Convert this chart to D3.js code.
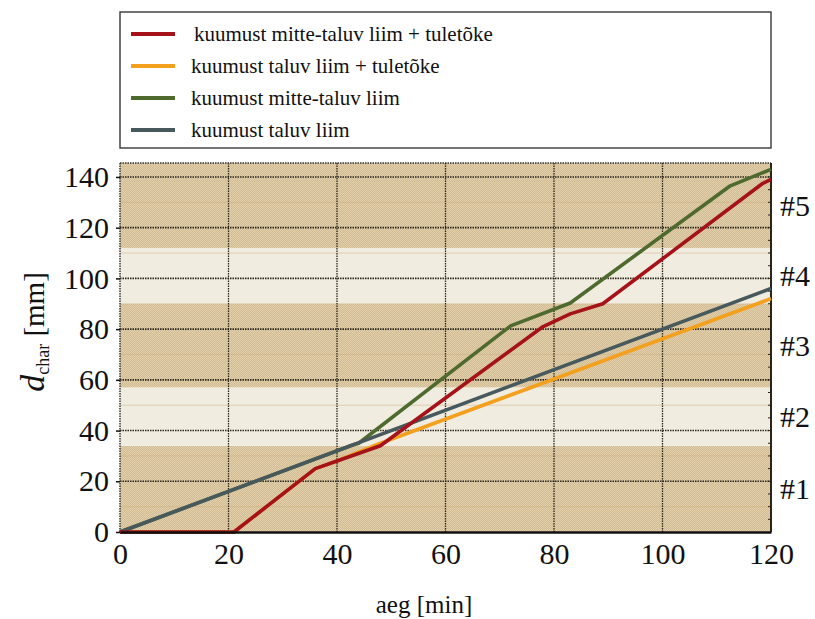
<!DOCTYPE html>
<html>
<head lang="en">
    <meta charset="UTF-8">
    <title></title>
    <style>
        body { margin: 0; background: #fff; }
        svg text { font-family: "Liberation Serif", "Liberation Sans", Arial, sans-serif !important; }
    </style>
</head>
<body>
    <svg id="chart" width="815" height="619"></svg>
</body>
<script src="https://cdn.jsdelivr.net/npm/d3@7/dist/d3.min.js"></script>
<script>

    // series: [time (min), char depth (mm)]
    let redData    = [[0,0],[21,0],[36,25],[40,28],[48,34],[78,81],[83,86],[89,90],[118.5,137.5],[120,139]];
    let orangeData = [[0,0],[21,0],[36,25],[40,28],[48,35],[120,92]];
    let greenData  = [[0,0],[43,34.4],[44,35],[72,81.3],[83,90.3],[112.5,136.5],[120,143]];
    let grayData   = [[0,0],[120,96]];

    let legendLabels = ["kuumust mitte-taluv liim + tuletõke", "kuumust taluv liim + tuletõke",
                        "kuumust mitte-taluv liim", "kuumust taluv liim"];
    let colors = ["#a5121a", "#f2a01e", "#4f6a2e", "#47595d"];

    let xTicks = [0, 20, 40, 60, 80, 100, 120];
    let yTicks = [0, 20, 40, 60, 80, 100, 120, 140];
    let bandEdges  = [0, 34, 57, 90, 112, 145.5];
    let bandLabels = ["#1", "#2", "#3", "#4", "#5"];

    let margin = {top: 163, right: 44, bottom: 87, left: 120};
    let width = 815 - margin.left - margin.right;
    let height = 619 - margin.top - margin.bottom;

    let svg = d3.select('svg');

    let defs = svg.append('defs');
    let pat = defs.append('pattern')
        .attr('id', 'hatch')
        .attr('width', 2).attr('height', 2)
        .attr('patternUnits', 'userSpaceOnUse');
    pat.append('rect').attr('width', 2).attr('height', 2).attr('fill', '#e1cfac');
    pat.append('rect').attr('width', 1).attr('height', 1).attr('fill', '#d2bc93');
    pat.append('rect').attr('x', 1).attr('y', 1).attr('width', 1).attr('height', 1).attr('fill', '#d2bc93');

    let canvas = svg.append('g')
        .attr("transform", "translate(" + margin.left + "," + margin.top + ")");

    let x = d3.scaleLinear().domain([0, 120]).range([0, width]);
    let y = d3.scaleLinear().domain([0, 145.5]).range([height, 0]);

    // shaded bands
    let bands = d3.range(bandLabels.length).map(i => ({lo: bandEdges[i], hi: bandEdges[i + 1], i: i}));
    canvas.selectAll('.band').data(bands).enter().append('rect')
        .attr('x', 0)
        .attr('width', width)
        .attr('y', d => y(d.hi))
        .attr('height', d => y(d.lo) - y(d.hi))
        .attr('fill', d => d.i % 2 === 0 ? 'url(#hatch)' : '#f1ece0');

    // faint minor lines
    canvas.selectAll('.minor').data(d3.range(10, 145, 20)).enter().append('line')
        .attr('x1', 0).attr('x2', width)
        .attr('y1', d => y(d)).attr('y2', d => y(d))
        .attr('stroke', '#c9a878').attr('stroke-opacity', 0.45).attr('stroke-width', 1);

    // major grid
    canvas.append('g').selectAll('line').data(yTicks.slice(1)).enter().append('line')
        .attr('x1', 0).attr('x2', width)
        .attr('y1', d => y(d)).attr('y2', d => y(d))
        .attr('stroke', '#2b2418').attr('stroke-width', 1.6).attr('stroke-dasharray', '1.5,1');
    canvas.append('g').selectAll('line').data(xTicks.slice(1, -1)).enter().append('line')
        .attr('y1', 0).attr('y2', height)
        .attr('x1', d => x(d)).attr('x2', d => x(d))
        .attr('stroke', '#2b2418').attr('stroke-width', 1.3).attr('stroke-dasharray', '1.5,1');

    // frame
    canvas.append('line').attr('x1', 0).attr('x2', width).attr('y1', 0).attr('y2', 0)
        .attr('stroke', '#333').attr('stroke-width', 1.5).attr('stroke-dasharray', '1.5,1');
    canvas.append('line').attr('x1', 0).attr('x2', 0).attr('y1', 0).attr('y2', height)
        .attr('stroke', '#333').attr('stroke-width', 1.5).attr('stroke-dasharray', '1.5,1');
    canvas.append('line').attr('x1', width).attr('x2', width).attr('y1', 0).attr('y2', height)
        .attr('stroke', '#2b2418').attr('stroke-width', 2);

    // right minor ticks
    canvas.selectAll('.rtick').data(d3.range(5, 145, 5)).enter().append('line')
        .attr('x1', width - 3).attr('x2', width)
        .attr('y1', d => y(d)).attr('y2', d => y(d))
        .attr('stroke', '#2b2418').attr('stroke-width', 1);

    // lines
    let line = d3.line()
        .x(d => x(d[0]))
        .y(d => y(d[1]));

    let series = [
        {data: orangeData, color: colors[1]},
        {data: greenData, color: colors[2]},
        {data: grayData, color: colors[3]},
        {data: redData, color: colors[0]}
    ];
    canvas.selectAll('.series').data(series).enter().append('path')
        .attr('d', d => line(d.data))
        .attr('fill', 'none')
        .attr('stroke', d => d.color)
        .attr('stroke-width', 3.6)
        .attr('stroke-linejoin', 'round');

    // axes
    let xAxis = canvas.append('g')
        .attr('transform', 'translate(0,' + height + ')')
        .call(d3.axisBottom(x).tickValues(xTicks).tickSize(0).tickPadding(8));
    xAxis.select('.domain').attr('stroke', '#111').attr('stroke-width', 2.5);
    xAxis.selectAll('text').attr('font-size', 30).attr('fill', '#111').attr('dy', '0.8em');

    let yAxis = canvas.append('g')
        .call(d3.axisLeft(y).tickValues(yTicks).tickSize(4).tickPadding(7));
    yAxis.select('.domain').remove();
    yAxis.selectAll('line').attr('stroke', '#111').attr('stroke-width', 1.5);
    yAxis.selectAll('text').attr('font-size', 30).attr('fill', '#111');

    // band labels
    canvas.selectAll('.blabel').data(bands).enter().append('text')
        .attr('x', width + 9)
        .attr('y', d => y((d.lo + d.hi) / 2))
        .attr('dy', '0.35em')
        .attr('font-size', 30)
        .attr('fill', '#111')
        .text(d => bandLabels[d.i]);

    // axis titles
    svg.append('text')
        .attr('x', 424)
        .attr('y', 613)
        .attr('text-anchor', 'middle')
        .attr('font-size', 25)
        .attr('fill', '#111')
        .text('aeg [min]');

    let yt = svg.append('text')
        .attr('transform', 'translate(44,332) rotate(-90)')
        .attr('text-anchor', 'middle')
        .attr('font-size', 29)
        .attr('fill', '#111');
    yt.append('tspan').attr('font-style', 'italic').attr('font-size', 34).text('d');
    yt.append('tspan').attr('font-size', 18).attr('dy', 5).text('char');
    yt.append('tspan').attr('dy', -5).text(' [mm]');

    // legend
    let legend = svg.append('g');
    legend.append('rect')
        .attr('x', 120).attr('y', 12).attr('width', 651).attr('height', 136)
        .attr('fill', '#fff').attr('stroke', '#444').attr('stroke-width', 1.5);
    let items = legend.selectAll('.item').data(legendLabels).enter().append('g')
        .attr('transform', (d, i) => 'translate(0,' + (34 + i * 32) + ')');
    items.append('line')
        .attr('x1', 131).attr('x2', 175)
        .attr('stroke', (d, i) => colors[i]).attr('stroke-width', 4);
    items.append('text')
        .attr('x', (d, i) => i === 0 ? 194 : 191)
        .attr('dy', '0.33em')
        .attr('font-size', 21)
        .attr('fill', '#111')
        .text(d => d);

</script>
</html>
